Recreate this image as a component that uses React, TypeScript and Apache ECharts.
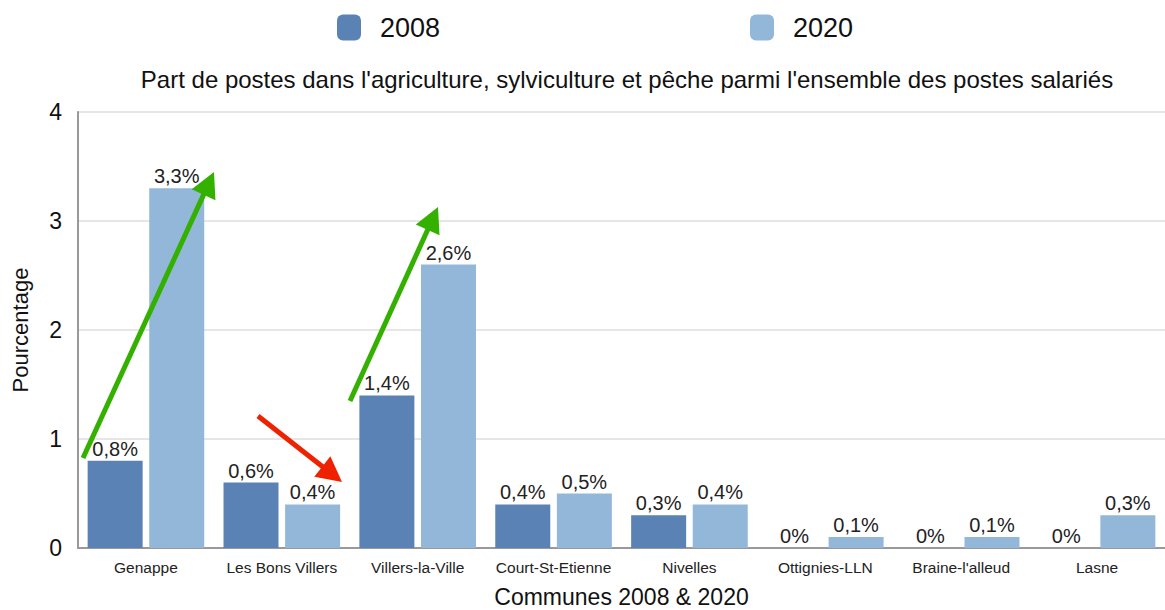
import React, { useEffect, useRef } from "react";
import * as echarts from "echarts";

const communes = [
  "Genappe",
  "Les Bons Villers",
  "Villers-la-Ville",
  "Court-St-Etienne",
  "Nivelles",
  "Ottignies-LLN",
  "Braine-l'alleud",
  "Lasne",
];
const values2008 = [0.8, 0.6, 1.4, 0.4, 0.3, 0, 0, 0];
const values2020 = [3.3, 0.4, 2.6, 0.5, 0.4, 0.1, 0.1, 0.3];
const yTicks = [0, 1, 2, 3, 4];

const FONT = "'Liberation Sans', Arial, sans-serif";
const DARK = "#5b82b4";
const LIGHT = "#93b7d9";

// Trend arrows drawn over the plot: [x1, y1, x2, y2, colour]
const arrows: [number, number, number, number, string][] = [
  [83, 458, 214, 172, "#33b000"],
  [350, 401, 438, 207, "#33b000"],
  [258, 416, 342, 482, "#ee2200"],
];

function arrowGraphic(a: [number, number, number, number, string]) {
  const [x1, y1, x2, y2, color] = a;
  const dx = x2 - x1;
  const dy = y2 - y1;
  const len = Math.sqrt(dx * dx + dy * dy);
  const ux = dx / len;
  const uy = dy / len;
  const headLen = 25;
  const headHalf = 13;
  const bx = x2 - ux * headLen;
  const by = y2 - uy * headLen;
  const px = -uy;
  const py = ux;
  return [
    {
      type: "line",
      shape: { x1, y1, x2: bx + ux * 2, y2: by + uy * 2 },
      style: { stroke: color, lineWidth: 5 },
      z: 100,
    },
    {
      type: "polygon",
      shape: {
        points: [
          [x2, y2],
          [bx + px * headHalf, by + py * headHalf],
          [bx - px * headHalf, by - py * headHalf],
        ],
      },
      style: { fill: color },
      z: 100,
    },
  ];
}

const pct = (p: any) => String(p.value).replace(".", ",") + "%";

export default function App() {
  const ref = useRef<HTMLDivElement>(null);

  useEffect(() => {
    if (!ref.current) return;
    const chart = echarts.init(ref.current, null, { renderer: "svg" });
    const labelStyle = {
      show: true,
      position: "top" as const,
      distance: 2,
      formatter: pct,
      fontFamily: FONT,
      fontSize: 20,
      color: "#222",
    };
    const legendText = { fontFamily: FONT, fontSize: 27, color: "#111", padding: [0, 0, 0, 14] };
    chart.setOption({
      animation: false,
      backgroundColor: "#ffffff",
      title: {
        text: "Part de postes dans l'agriculture, sylviculture et pêche parmi l'ensemble des postes salariés",
        left: 622,
        textAlign: "center",
        top: 62,
        textStyle: { fontFamily: FONT, fontSize: 24, fontWeight: "normal", color: "#111" },
      },
      legend: [
        {
          data: ["2008"],
          left: 337,
          top: 14,
          padding: 0,
          itemWidth: 24,
          itemHeight: 26,
          itemGap: 0,
          textStyle: legendText,
        },
        {
          data: ["2020"],
          left: 750,
          top: 14,
          padding: 0,
          itemWidth: 24,
          itemHeight: 26,
          itemGap: 0,
          textStyle: legendText,
        },
      ],
      grid: {
        left: 78,
        right: 0,
        top: 112,
        bottom: 62,
        containLabel: false,
        outerBoundsMode: "none",
      },
      xAxis: {
        type: "category",
        data: communes,
        name: "Communes 2008 & 2020",
        nameLocation: "middle",
        nameGap: 37,
        nameTextStyle: { fontFamily: FONT, fontSize: 23, color: "#111" },
        axisLine: { lineStyle: { color: "#999", width: 2 } },
        axisTick: { show: false },
        axisLabel: { fontFamily: FONT, fontSize: 15.5, color: "#222", margin: 11, interval: 0 },
      },
      yAxis: {
        type: "value",
        min: yTicks[0],
        max: yTicks[yTicks.length - 1],
        interval: 1,
        name: "Pourcentage",
        nameLocation: "middle",
        nameGap: 47,
        nameTextStyle: { fontFamily: FONT, fontSize: 22, color: "#111" },
        axisLine: { show: true, lineStyle: { color: "#999", width: 2 } },
        axisTick: { show: false },
        axisLabel: { fontFamily: FONT, fontSize: 23, color: "#111", margin: 16 },
        splitLine: { lineStyle: { color: "#dedede", width: 1.5 } },
      },
      series: [
        {
          name: "2008",
          type: "bar",
          data: values2008,
          barWidth: 55,
          barGap: "12%",
          itemStyle: { color: DARK },
          label: labelStyle,
        },
        {
          name: "2020",
          type: "bar",
          data: values2020,
          barWidth: 55,
          barGap: "12%",
          itemStyle: { color: LIGHT },
          label: labelStyle,
        },
      ],
      graphic: arrows.flatMap(arrowGraphic),
    });
    return () => chart.dispose();
  }, []);

  return (
    <div
      ref={ref}
      style={{ position: "fixed", left: 0, top: 0, width: 1165, height: 610, background: "#fff" }}
    />
  );
}
